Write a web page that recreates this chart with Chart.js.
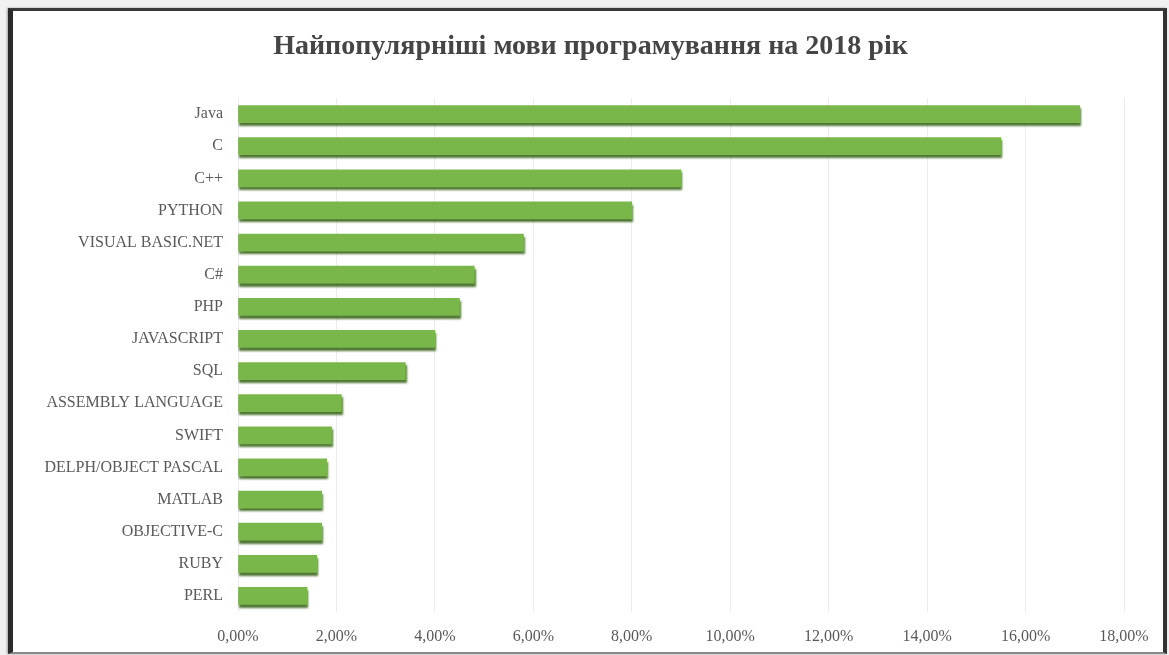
<!DOCTYPE html>
<html lang="uk">
<head>
<meta charset="utf-8">
<title>Найпопулярніші мови програмування на 2018 рік</title>
<script src="https://cdn.jsdelivr.net/npm/chart.js@4/dist/chart.umd.min.js"></script>
<style>
  html, body { margin: 0; padding: 0; background: #f1f1f1; }
  #wrap { position: relative; width: 1169px; height: 655px; overflow: hidden; }
  #paper { position: absolute; left: 8px; top: 8px; width: 1159px; height: 646px; box-sizing: border-box;
           background: #fff;
           border-left: 5px solid #2a2a2a; border-top: 3px solid #3a3a3a;
           border-right: 4px solid #333; border-bottom: 2px solid #8a8a8a;
           box-shadow: -1px 0 2px rgba(0,0,0,0.35); }
  canvas { position: absolute; left: 0; top: 0; }
</style>
</head>
<body>
<div id="wrap">
  <div id="paper"></div>
  <canvas id="chart" width="1169" height="655"></canvas>
</div>
<script>
// Languages, top to bottom
const languages = [
  'Java', 'C', 'C++', 'PYTHON', 'VISUAL BASIC.NET', 'C#', 'PHP', 'JAVASCRIPT', 'SQL',
  'ASSEMBLY LANGUAGE', 'SWIFT', 'DELPH/OBJECT PASCAL', 'MATLAB', 'OBJECTIVE-C', 'RUBY', 'PERL'
];
// Share of popularity, percent
const shares = [17.1, 15.5, 9.0, 8.0, 5.8, 4.8, 4.5, 4.0, 3.4, 2.1, 1.9, 1.8, 1.7, 1.7, 1.6, 1.4];
// Horizontal axis ticks, percent
const axisTicks = [0, 2, 4, 6, 8, 10, 12, 14, 16, 18];

const chartTitle = 'Найпопулярніші мови програмування на 2018 рік';
const serif = "'Liberation Serif', 'DejaVu Serif', serif";

// Soft dark-green drop shadow under each bar
const barShadow = {
  id: 'barShadow',
  beforeDatasetsDraw(chart) {
    const ctx = chart.ctx;
    ctx.save();
    ctx.shadowColor = 'rgba(72, 112, 44, 0.95)';
    ctx.shadowOffsetX = 1;
    ctx.shadowOffsetY = 3;
    ctx.shadowBlur = 2;
  },
  afterDatasetsDraw(chart) {
    chart.ctx.restore();
  }
};

// Heading centred on the framed sheet rather than on the padded chart box
const sheetTitle = {
  id: 'sheetTitle',
  afterDraw(chart) {
    const ctx = chart.ctx;
    ctx.save();
    ctx.font = 'bold 28px ' + serif;
    ctx.fillStyle = '#454545';
    ctx.textAlign = 'center';
    ctx.textBaseline = 'middle';
    ctx.fillText(chartTitle, chart.width / 2 + 6, 47);
    ctx.restore();
  }
};

new Chart(document.getElementById('chart'), {
  type: 'bar',
  data: {
    labels: languages,
    datasets: [{
      data: shares,
      backgroundColor: '#7ab74a',
      borderWidth: 0,
      barThickness: 17
    }]
  },
  plugins: [barShadow, sheetTitle],
  options: {
    indexAxis: 'y',
    responsive: false,
    animation: false,
    layout: { padding: { top: 98, left: 10, right: 45, bottom: 0 } },
    plugins: {
      legend: { display: false },
      tooltip: { enabled: false },
      title: { display: false }
    },
    scales: {
      x: {
        min: 0,
        max: 18,
        afterBuildTicks(scale) { scale.ticks = axisTicks.map(v => ({ value: v })); },
        afterFit(scale) { scale.height = 43; },
        grid: { color: '#ececec', drawTicks: false },
        border: { display: false },
        ticks: {
          padding: 15,
          color: '#595959',
          font: { family: serif, size: 16 },
          callback: v => v.toFixed(2).replace('.', ',') + '%'
        }
      },
      y: {
        afterFit(scale) { scale.width = 228; },
        grid: { display: false, drawTicks: false },
        border: { display: false },
        ticks: {
          padding: 15,
          color: '#595959',
          font: { family: serif, size: 16 }
        }
      }
    }
  }
});
</script>
</body>
</html>
